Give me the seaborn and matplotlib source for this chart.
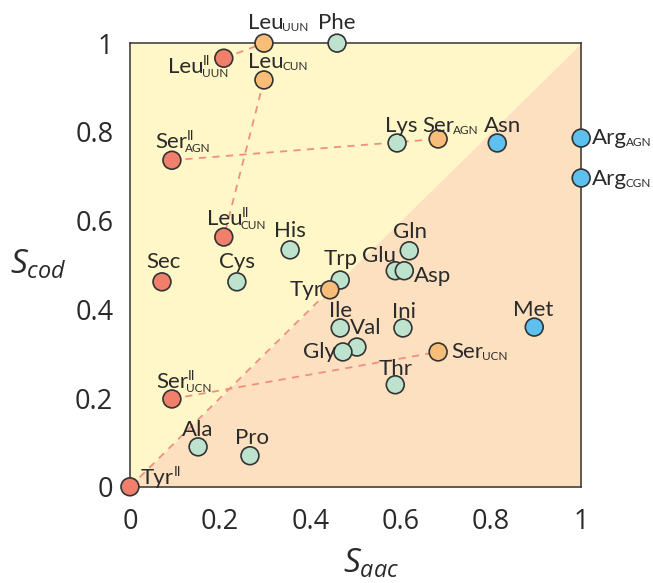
import numpy as np
import pandas as pd
import seaborn as sns
import matplotlib
matplotlib.use("Agg")
import matplotlib.pyplot as plt
from matplotlib.font_manager import FontProperties

# data
keys = ["Phe", "LeuUUN", "LeuIIUUN", "LeuCUN", "LeuIICUN", "SerIIAGN", "Lys", "SerAGN",
        "Asn", "ArgAGN", "ArgCGN", "Sec", "Cys", "His", "Trp", "Tyr", "Gln", "Glu", "Asp",
        "Ile", "Ini", "Val", "Gly", "SerUCN", "Thr", "Met", "SerIIUCN", "Ala", "Pro", "TyrII"]
names = ["Phe", "Leu", "Leu", "Leu", "Leu", "Ser", "Lys", "Ser", "Asn", "Arg", "Arg", "Sec",
         "Cys", "His", "Trp", "Tyr", "Gln", "Glu", "Asp", "Ile", "Ini", "Val", "Gly", "Ser",
         "Thr", "Met", "Ser", "Ala", "Pro", "Tyr"]
sups = ["", "", "II", "", "II", "II", "", "", "", "", "", "", "", "", "", "", "", "", "",
        "", "", "", "", "", "", "", "II", "", "", "II"]
subs = ["", "UUN", "UUN", "CUN", "CUN", "AGN", "", "AGN", "", "AGN", "CGN", "", "", "", "",
        "", "", "", "", "", "", "", "", "UCN", "", "", "UCN", "", "", ""]
s_aac = [0.459, 0.297, 0.208, 0.297, 0.208, 0.093, 0.592, 0.683, 0.814, 1.0, 1.0, 0.071,
         0.237, 0.355, 0.466, 0.443, 0.619, 0.588, 0.608, 0.466, 0.605, 0.503, 0.472, 0.683,
         0.588, 0.896, 0.093, 0.151, 0.266, 0.0]
s_cod = [1.0, 1.0, 0.966, 0.917, 0.563, 0.736, 0.775, 0.784, 0.775, 0.786, 0.696, 0.462,
         0.462, 0.534, 0.466, 0.444, 0.532, 0.487, 0.487, 0.358, 0.358, 0.315, 0.304, 0.304,
         0.230, 0.360, 0.198, 0.090, 0.070, 0.0]
red = ["LeuIIUUN", "LeuIICUN", "SerIIAGN", "Sec", "SerIIUCN", "TyrII"]
orange = ["LeuUUN", "LeuCUN", "SerAGN", "SerUCN", "Tyr"]
blue = ["Asn", "ArgAGN", "ArgCGN", "Met"]
pairs = [("LeuIIUUN", "LeuUUN"), ("LeuCUN", "LeuIICUN"), ("SerIIAGN", "SerAGN"),
         ("SerIIUCN", "SerUCN"), ("TyrII", "Tyr")]

def group_of(k):
    if k in red:
        return "red"
    if k in orange:
        return "orange"
    if k in blue:
        return "blue"
    return "green"

df = pd.DataFrame({"key": keys, "Saac": s_aac, "Scod": s_cod})
df["group"] = df["key"].map(group_of)
pos = df.set_index("key")

# label placement (pixel offsets of the text baseline start from the point, ha)
offs = {
    "Phe": (-19, 14, "left"), "LeuUUN": (-16, 14, "left"), "LeuIIUUN": (-56, -15, "left"),
    "LeuCUN": (-16, 12, "left"), "LeuIICUN": (-17, 12, "left"), "SerIIAGN": (-17, 12, "left"),
    "Lys": (-12, 11, "left"), "SerAGN": (-16, 7, "left"), "Asn": (-13, 11, "left"),
    "ArgAGN": (11, -6, "left"), "ArgCGN": (11, -7, "left"), "Sec": (-16, 14, "left"),
    "Cys": (-18, 14, "left"), "His": (-16, 13, "left"), "Trp": (-17, 15, "left"),
    "Tyr": (-7, -6, "right"), "Gln": (-16, 13, "left"), "Glu": (-33, 9, "left"),
    "Asp": (10, -11, "left"), "Ile": (-11, 11, "left"), "Ini": (-11, 10, "left"),
    "Val": (-7, 13, "left"), "Gly": (-7, -6, "right"), "SerUCN": (13, -6, "left"),
    "Thr": (-17, 10, "left"), "Met": (-21, 11, "left"), "SerIIUCN": (-16, 11, "left"),
    "Ala": (-16, 11, "left"), "Pro": (-15, 12, "left"), "TyrII": (11, 3, "left"),
}

sns.set_style("white")
plt.rcParams["font.family"] = ["Open Sans", "DejaVu Sans"]
plt.rcParams["mathtext.fontset"] = "custom"
plt.rcParams["mathtext.rm"] = "Open Sans"
plt.rcParams["mathtext.it"] = "Open Sans:italic"

txt = "#2a2a2a"
fig = plt.figure(figsize=(6.53, 5.83), dpi=100)
ax = fig.add_axes([0.199, 0.165, 0.691, 0.761])

xx = np.array([0, 1])
ax.fill_between(xx, xx, 1, color="#fff7c8", lw=0, zorder=0)
ax.fill_between(xx, 0, xx, color="#fde0c0", lw=0, zorder=0)

for a, b in pairs:
    ax.plot([pos.loc[a, "Saac"], pos.loc[b, "Saac"]], [pos.loc[a, "Scod"], pos.loc[b, "Scod"]],
            ls=(0, (4, 3.5)), color="#f0907c", lw=1.3, zorder=1)

palette = {"red": "#f07f6c", "orange": "#f9bd7a", "green": "#bde3cf", "blue": "#5ec0ee"}
sns.scatterplot(data=df, x="Saac", y="Scod", hue="group", palette=palette, s=165,
                edgecolor="#333333", linewidth=1.2, legend=False, ax=ax,
                clip_on=False, zorder=4)

# point labels: base name, then smaller super/subscripts right after it
renderer = fig.canvas.get_renderer()
fp_base = FontProperties(family="Lato", size=16)
for k, nm, sp_, sb, x, y in zip(keys, names, sups, subs, s_aac, s_cod):
    dx, dy, ha = offs[k]
    ax.annotate(nm, (x, y), xytext=(dx, dy), textcoords="offset pixels", ha=ha,
                va="baseline", fontproperties=fp_base, color=txt, zorder=5,
                annotation_clip=False)
    w = renderer.get_text_width_height_descent(nm, fp_base, ismath=False)[0]
    xe = dx + w - 1.5
    if sp_:
        ax.annotate(sp_, (x, y), xytext=(xe + 1, dy + 8), textcoords="offset pixels",
                    ha="left", va="baseline", family="Lato", fontsize=10, color=txt,
                    zorder=5, annotation_clip=False)
    if sb:
        ax.annotate(sb, (x, y), xytext=(xe, dy - (4 if sp_ else 2)), textcoords="offset pixels",
                    ha="left", va="baseline", family="Lato", fontsize=8.5, color=txt,
                    zorder=5, annotation_clip=False)

ax.set_xlim(0, 1)
ax.set_ylim(0, 1)
ticks = [0, 0.2, 0.4, 0.6, 0.8, 1]
ticklabels = ["0", "0.2", "0.4", "0.6", "0.8", "1"]
ax.set_xticks(ticks)
ax.set_xticklabels(ticklabels)
ax.set_yticks(ticks)
ax.set_yticklabels(ticklabels)
ax.tick_params(direction="out", length=7, width=1.1, color="#333333", labelsize=19.5,
               labelcolor=txt)
ax.tick_params(axis="x", pad=8)
ax.tick_params(axis="y", pad=5)
for spn in ax.spines.values():
    spn.set_color("#333333")
    spn.set_linewidth(1.1)
ax.set_xlabel("")
ax.set_ylabel("")

fig.text(0.016, 0.545, r"$S_{cod}$", fontsize=24, color=txt, ha="left", va="center")
fig.text(0.525, 0.004, r"$S_{aac}$", fontsize=24, color=txt, ha="left", va="bottom")

fig.savefig("out.png", dpi=100)
